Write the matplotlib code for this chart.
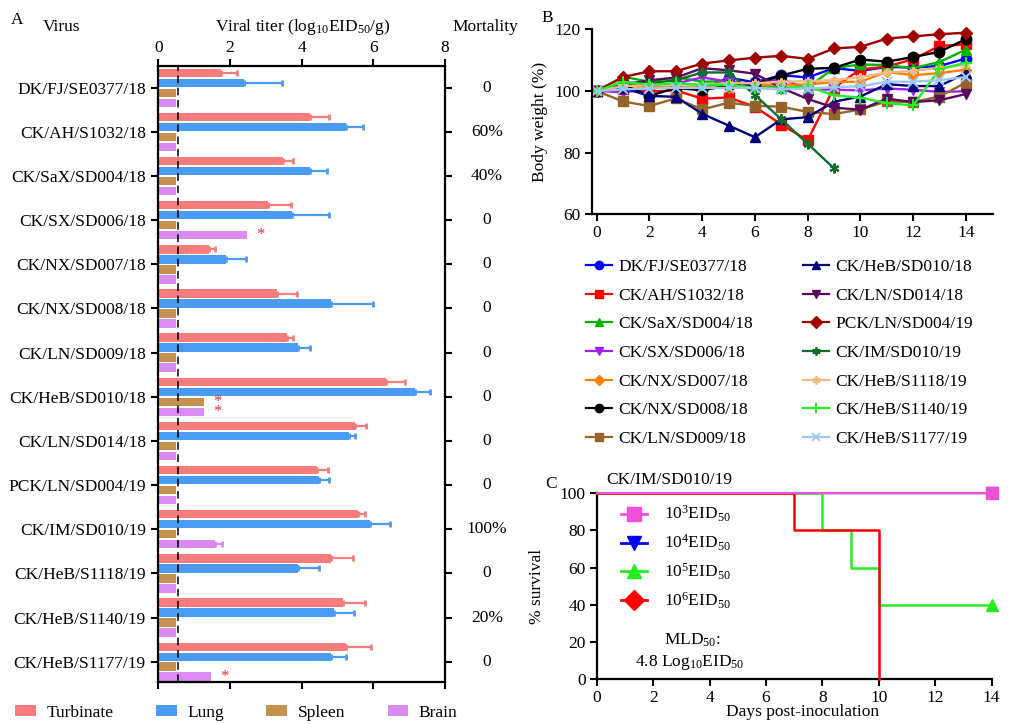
import matplotlib
matplotlib.use('Agg')
import matplotlib.pyplot as plt
import numpy as np
from matplotlib.patches import Patch
from matplotlib.lines import Line2D
import matplotlib.transforms as mtrans

plt.rcParams['font.family'] = ['Liberation Serif', 'DejaVu Serif']
plt.rcParams['mathtext.fontset'] = 'custom'
plt.rcParams['mathtext.rm'] = 'Liberation Serif'
plt.rcParams['mathtext.it'] = 'Liberation Serif:italic'
plt.rcParams['mathtext.bf'] = 'Liberation Serif:bold'

# ---------------- data ----------------
viruses = ['DK/FJ/SE0377/18', 'CK/AH/S1032/18', 'CK/SaX/SD004/18', 'CK/SX/SD006/18',
           'CK/NX/SD007/18', 'CK/NX/SD008/18', 'CK/LN/SD009/18', 'CK/HeB/SD010/18',
           'CK/LN/SD014/18', 'PCK/LN/SD004/19', 'CK/IM/SD010/19', 'CK/HeB/S1118/19',
           'CK/HeB/S1140/19', 'CK/HeB/S1177/19']
mortality = ['0', '60%', '40%', '0', '0', '0', '0', '0', '0', '0', '100%', '0', '20%', '0']

turbinate = [1.74, 4.24, 3.49, 3.07, 1.40, 3.32, 3.58, 6.34, 5.50, 4.42, 5.57, 4.83, 5.16, 5.24]
turbinate_err = [0.46, 0.53, 0.28, 0.62, 0.17, 0.54, 0.17, 0.55, 0.29, 0.31, 0.19, 0.59, 0.62, 0.69]
lung = [2.40, 5.24, 4.24, 3.74, 1.90, 4.83, 3.91, 7.17, 5.32, 4.49, 5.91, 3.91, 4.91, 4.83]
lung_err = [1.05, 0.46, 0.46, 1.02, 0.55, 1.17, 0.32, 0.41, 0.18, 0.28, 0.56, 0.56, 0.55, 0.41]
spleen = [0.5, 0.5, 0.5, 0.5, 0.5, 0.5, 0.5, 1.27, 0.5, 0.5, 0.5, 0.5, 0.5, 0.5]
spleen_err = [0] * 14
brain = [0.5, 0.5, 0.5, 2.48, 0.5, 0.5, 0.5, 1.27, 0.5, 0.5, 1.58, 0.5, 0.5, 1.48]
brain_err = [0, 0, 0, 0, 0, 0, 0, 0, 0, 0, 0.20, 0, 0, 0]
spleen_sig = [7]
brain_sig = [3, 7, 13]
detection_limit = 0.56

days = list(range(15))
bw_names = ['DK/FJ/SE0377/18', 'CK/AH/S1032/18', 'CK/SaX/SD004/18', 'CK/SX/SD006/18',
            'CK/NX/SD007/18', 'CK/NX/SD008/18', 'CK/LN/SD009/18', 'CK/HeB/SD010/18',
            'CK/LN/SD014/18', 'PCK/LN/SD004/19', 'CK/IM/SD010/19', 'CK/HeB/S1118/19',
            'CK/HeB/S1140/19', 'CK/HeB/S1177/19']
bw_values = [
    [100, 102.8, 102.3, 101.2, 100.6, 104.3, 102.8, 105.1, 104.4, 107.4, 106.5, 107.8, 107.6, 108.1, 110.5],
    [100, 100.8, 99.8, 100.2, 97.5, 97.9, 94.9, 89.1, 84.0, 101.1, 107.0, 107.9, 110.3, 114.6, 115.1],
    [100, 104.6, 103.0, 104.5, 103.0, 103.2, 101.6, 101.0, 101.1, 107.4, 108.6, 108.4, 107.4, 109.4, 113.4],
    [100, 99.6, 100.5, 102.4, 104.4, 103.0, 102.0, 104.0, 100.6, 100.4, 100.2, 100.8, 100.4, 99.7, 99.9],
    [100, 101.5, 101.4, 101.6, 101.3, 101.0, 101.8, 102.0, 102.1, 102.9, 103.0, 106.2, 105.1, 105.8, 106.9],
    [100, 102.0, 98.4, 101.0, 100.2, 101.8, 102.2, 105.0, 107.2, 107.5, 110.2, 109.5, 111.0, 112.7, 116.8],
    [100, 96.6, 95.1, 97.6, 94.0, 96.2, 95.2, 94.9, 93.2, 92.5, 94.0, 96.6, 96.4, 98.2, 102.7],
    [100, 101.0, 98.4, 98.1, 92.6, 88.8, 85.0, 90.8, 91.5, 96.5, 98.2, 102.2, 101.6, 101.6, 105.8],
    [100, 102.0, 103.5, 104.3, 107.4, 106.7, 105.6, 101.0, 97.4, 94.6, 93.9, 97.5, 96.4, 97.0, 99.0],
    [100, 104.5, 106.4, 106.4, 108.9, 109.9, 110.8, 111.4, 110.4, 113.8, 114.3, 117.0, 117.7, 118.4, 118.9],
    [100, 102.0, 102.5, 103.5, 106.0, 106.0, 98.7, 90.8, 82.9, 74.9],
    [100, 101.5, 102.0, 101.8, 102.0, 102.5, 102.5, 103.0, 103.2, 103.5, 104.5, 106.0, 106.5, 107.5, 108.5],
    [100, 103.0, 102.0, 102.5, 102.0, 102.0, 101.0, 100.8, 101.5, 98.6, 97.8, 96.1, 95.3, 107.0, 109.2],
    [100, 100.5, 100.8, 101.0, 101.0, 101.0, 101.0, 100.5, 100.8, 101.2, 101.5, 103.0, 103.0, 103.5, 104.5],
]
bw_colors = ['#0000FF', '#FF0000', '#00B400', '#A020F0', '#FF8000', '#000000', '#96642A',
             '#00007A', '#5A0A5A', '#A00000', '#0F6E2D', '#F5B983', '#22EE22', '#9CC8F5']
bw_markers = ['o', 's', '^', 'v', 'D', 'o', 's', '^', 'v', 'D', (6, 2, 0), (6, 2, 0), '+', 'x']
bw_msize = [7.5, 7.5, 7.5, 7.5, 5, 7.5, 7.5, 7.5, 7.5, 6, 7, 6, 8, 7]

surv_labels = [r'10$^\mathrm{3}$EID$_\mathrm{50}$', r'10$^\mathrm{4}$EID$_\mathrm{50}$',
               r'10$^\mathrm{5}$EID$_\mathrm{50}$', r'10$^\mathrm{6}$EID$_\mathrm{50}$']
surv_days = [[0, 14], [0, 14], [0, 8, 9, 10, 14], [0, 7, 10]]
surv_vals = [[100, 100], [100, 100], [100, 80, 60, 40, 40], [100, 80, 0]]
surv_colors = ['#F050D8', '#0000FF', '#22EE22', '#FF0000']
surv_markers = ['s', 'v', '^', 'D']

# ---------------- figure ----------------
fig = plt.figure(figsize=(10.13, 7.24), dpi=100)
FS = 12.5

# ---- Panel A ----
axA = fig.add_axes([0.1563, 0.058, 0.283, 0.8513])
n = len(viruses)
ypos = np.arange(n)
slot = 0.2262
bh = 0.19
series = [(turbinate, turbinate_err, '#F87C7C', 'Turbinate'),
          (lung, lung_err, '#4C9BF2', 'Lung'),
          (spleen, spleen_err, '#C4914F', 'Spleen'),
          (brain, brain_err, '#DA8BF0', 'Brain')]
for k, (vals, errs, col, lab) in enumerate(series):
    yy = ypos + (k - 1.5) * slot
    axA.barh(yy, vals, height=bh, color=col, zorder=2)
    vals_a = np.array(vals, float)
    errs_a = np.array(errs, float)
    m = errs_a > 0
    if m.any():
        axA.errorbar(vals_a[m], yy[m], xerr=[np.zeros(m.sum()), errs_a[m]], fmt='none',
                     ecolor=col, elinewidth=1.6, capsize=2.5, capthick=2.0, zorder=2)
for i in spleen_sig:
    axA.text(spleen[i] + 0.37, i + 0.5 * slot, '*', color='#E0303A', fontsize=12,
             ha='center', va='center', zorder=3)
for i in brain_sig:
    axA.text(brain[i] + 0.37, i + 1.5 * slot, '*', color='#E0303A', fontsize=12,
             ha='center', va='center', zorder=3)
axA.axvline(detection_limit, color='black', linestyle=(0, (5, 3)), linewidth=1.1, zorder=3)
axA.set_xlim(0, 8)
axA.set_ylim(13.46, -0.5)
axA.set_yticks(ypos)
axA.set_yticklabels(viruses, fontsize=FS)
axA.set_xticks([0, 2, 4, 6, 8])
axA.tick_params(axis='x', top=True, labeltop=True, bottom=True, labelbottom=False,
                direction='out', length=5, width=1.5, labelsize=FS, pad=2)
axA.tick_params(axis='y', left=True, right=True, direction='out', length=5, width=1.5, pad=4)
for s in axA.spines.values():
    s.set_linewidth(1.6)
trA = mtrans.blended_transform_factory(fig.transFigure, axA.transData)
for i, t in enumerate(mortality):
    axA.text(0.4808, i, t, transform=trA, ha='center', va='center', fontsize=FS)

fig.text(0.0168, 0.972, 'A', fontsize=FS, ha='center', va='center')
fig.text(0.0612, 0.9627, 'Virus', fontsize=FS, ha='center', va='center')
fig.text(0.299, 0.9627, r'Viral titer (log$_\mathrm{10}$EID$_\mathrm{50}$/g)', fontsize=FS,
         ha='center', va='center')
fig.text(0.4793, 0.9627, 'Mortality', fontsize=FS, ha='center', va='center')

handlesA = [Patch(facecolor=c, edgecolor='none') for (_, _, c, _) in series]
fig.legend(handlesA, [s[3] for s in series], ncol=4, loc='center left',
           bbox_to_anchor=(15 / 1013, 1 - 713 / 724), frameon=False, fontsize=FS,
           handlelength=1.2, handleheight=0.6, handletextpad=0.6, columnspacing=2.45,
           borderpad=0, borderaxespad=0)

# ---- Panel B ----
axB = fig.add_axes([591.7 / 1013, 1 - 214.3 / 724, (993 - 591.7) / 1013, 185 / 724])
for vals, col, mk, ms, name in zip(bw_values, bw_colors, bw_markers, bw_msize, bw_names):
    mew = 1.5 if mk in ('+', 'x', (6, 2, 0)) else 1.0
    axB.plot(days[:len(vals)], vals, color=col, marker=mk, markersize=ms, linewidth=1.7,
             markeredgewidth=mew, markeredgecolor=col, label=name, clip_on=False)
axB.set_xlim(-0.19, 15.03)
axB.set_ylim(60, 120)
axB.set_xticks(range(0, 15, 2))
axB.set_yticks([60, 80, 100, 120])
axB.spines['top'].set_visible(False)
axB.spines['right'].set_visible(False)
for s in ('left', 'bottom'):
    axB.spines[s].set_linewidth(1.6)
axB.tick_params(direction='out', length=5, width=1.5, labelsize=FS, pad=3)
axB.set_ylabel('Body weight (%)', fontsize=FS)
axB.yaxis.set_label_coords(-0.109, 0.5)
fig.text(547 / 1013, 1 - 18 / 724, 'B', fontsize=FS, ha='center', va='center')

handlesB = [Line2D([0], [0], color=c, marker=m, markersize=min(ms, 6) if m not in ('+',) else 7,
                   linewidth=1.6, markeredgewidth=1.3 if m in ('+', 'x', (6, 2, 0)) else 1.0)
            for c, m, ms in zip(bw_colors, bw_markers, bw_msize)]
fig.legend(handlesB, bw_names, ncol=2, loc='upper left',
           bbox_to_anchor=(586 / 1013, 1 - 259 / 724), frameon=False, fontsize=FS,
           handlelength=1.5, handletextpad=0.35, columnspacing=2.9, labelspacing=0.72,
           borderpad=0, borderaxespad=0)

# ---- Panel C ----
axC = fig.add_axes([596.7 / 1013, 1 - 679 / 724, 395 / 1013, 185.7 / 724])
zord = [6, 3, 4, 4]
lws = [1.6, 1.0, 1.8, 1.8]
for d, v, c, z, lw in zip(surv_days, surv_vals, surv_colors, zord, lws):
    axC.step(d, v, where='post', color=c, linewidth=lw, clip_on=False, zorder=z)
for d, v, c, m, z in zip(surv_days[:3], surv_vals[:3], surv_colors[:3], surv_markers[:3], zord):
    axC.plot(d[-1], v[-1], marker=m, color=c, markersize=8, linestyle='none',
             clip_on=False, zorder=z + 1)
axC.set_xlim(0, 14)
axC.set_ylim(0, 100)
axC.set_xticks(range(0, 15, 2))
axC.set_yticks(range(0, 101, 20))
axC.spines['top'].set_visible(False)
axC.spines['right'].set_visible(False)
for s in ('left', 'bottom'):
    axC.spines[s].set_linewidth(1.6)
axC.tick_params(direction='out', length=5, width=1.5, labelsize=FS, pad=3)
axC.set_ylabel('% survival', fontsize=FS)
axC.yaxis.set_label_coords(-0.131, 0.5)
axC.set_xlabel('Days post-inoculation', fontsize=FS)
axC.xaxis.set_label_coords(0.52, -0.135)
fig.text(551 / 1013, 1 - 484 / 724, 'C', fontsize=FS, ha='center', va='center')
fig.text(669 / 1013, 1 - 480 / 724, 'CK/IM/SD010/19', fontsize=FS, ha='center', va='center')
fig.text(692 / 1013, 1 - 640 / 724, r'MLD$_\mathrm{50}$:', fontsize=FS, ha='center', va='center')
fig.text(690 / 1013, 1 - 662 / 724, r'4.8 Log$_\mathrm{10}$EID$_\mathrm{50}$', fontsize=FS,
         ha='center', va='center')
handlesC = [Line2D([0], [0], color=c, marker=m, markersize=10, linewidth=2)
            for c, m in zip(surv_colors, surv_markers)]
fig.legend(handlesC, surv_labels, loc='upper left', bbox_to_anchor=(621 / 1013, 1 - 504 / 724),
           frameon=False, fontsize=FS, handlelength=1.5, handletextpad=1.0, labelspacing=0.5,
           borderpad=0, borderaxespad=0)

fig.savefig('out.png', dpi=100)
